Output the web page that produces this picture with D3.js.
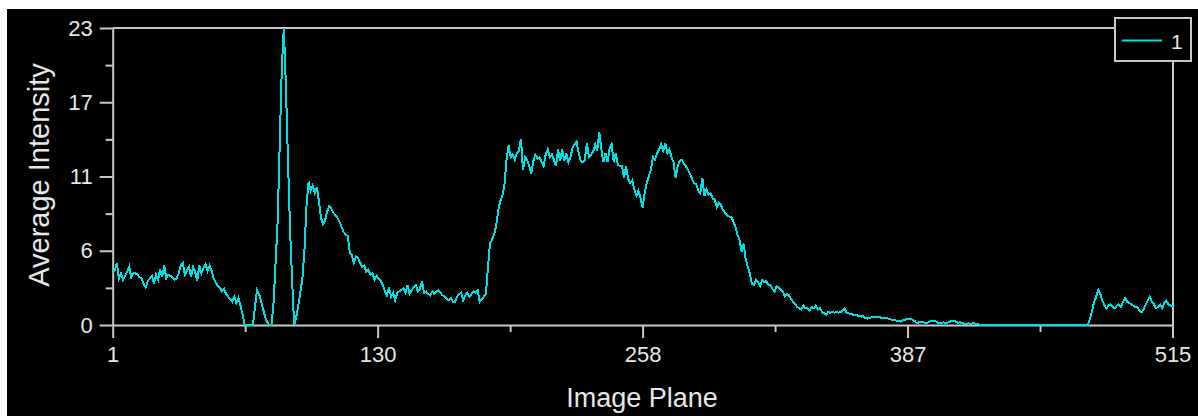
<!DOCTYPE html>
<html><head><meta charset="utf-8">
<script src="https://cdn.jsdelivr.net/npm/d3@7"></script>
<style>html,body{margin:0;padding:0;background:#fff;overflow:hidden}</style>
</head><body>
<svg id="c" width="1198" height="416"></svg>
<script>
// ---- data ----
const intensity = [
  // 1-48
  4.1,4.2,4.8,3.6,4.0,3.5,3.8,4.1,4.5,3.7,
  4.0,4.0,3.9,3.7,3.6,3.2,2.9,3.4,3.6,3.8,
  3.2,3.9,3.5,4.3,3.7,4.6,3.6,3.9,3.8,3.7,
  3.5,3.6,4.0,4.6,4.8,3.9,4.2,4.5,3.7,4.5,
  4.1,3.4,4.6,4.0,4.4,4.7,4.2,4.6,
  // 49-111
  4.2,3.6,3.3,3.0,2.9,2.6,2.8,2.4,2.2,2.0,1.8,2.2,
  1.7,2.1,1.5,0.8,0,0,0,0,0,1.4,
  2.7,2.4,1.8,1.2,0.6,0.2,0,0,1.7,4.8,
  8.0,14.0,19.8,23.0,18.5,12.8,7.5,3.5,0,0.6,
  1.5,2.5,3.6,5.8,9.2,11.1,10.4,10.8,10.2,10.7,
  9.6,8.3,7.8,8.1,8.8,9.2,9.0,8.7,8.5,8.3,
  8.0,
  // 112-185
  7.6,7.2,7.0,6.9,5.6,5.4,4.8,5.3,5.2,4.8,
  4.5,4.6,4.1,4.3,3.9,4.0,3.5,3.8,3.6,3.4,
  3.1,2.6,2.3,2.9,2.2,2.5,1.9,2.5,2.6,2.7,
  2.85,2.5,3.1,2.4,2.7,2.9,3.1,2.6,2.8,3.4,
  2.5,2.6,2.4,2.3,2.6,2.4,2.6,2.7,2.5,2.3,
  2.2,2.0,1.9,2.1,1.8,1.8,2.2,2.4,2.5,1.9,
  2.3,2.5,2.2,2.4,2.6,2.5,2.7,1.8,2.0,2.2,
  2.4,4.5,6.3,6.6,
  // 186-325
  7.0,7.7,8.9,9.6,10.0,10.9,12.8,13.9,13.0,13.2,
  12.8,13.3,13.5,14.4,12.0,13.0,12.8,12.3,11.7,12.7,
  13.2,12.9,13.0,12.6,12.3,13.2,13.6,13.0,13.2,12.8,
  12.3,13.6,12.7,13.6,12.7,13.3,12.6,13.0,13.7,14.0,
  14.2,13.3,12.7,12.6,12.8,14.1,13.0,13.2,13.4,14.0,
  13.5,14.9,13.6,12.6,13.3,12.6,13.7,14.0,12.6,13.3,
  12.4,12.3,12.3,11.4,12.3,11.3,11.0,11.2,10.5,10.0,
  10.4,9.8,9.1,10.2,11.0,11.5,12.0,13.0,12.8,13.3,
  13.6,14.0,13.5,14.1,13.3,13.6,13.0,12.6,11.4,12.3,
  12.7,12.8,12.5,12.3,12.0,11.7,11.3,11.0,10.9,10.4,
  10.2,11.4,10.0,10.5,10.1,10.2,9.8,9.7,9.1,9.5,
  9.3,8.9,8.7,8.5,8.4,8.4,8.0,7.6,7.0,6.6,
  5.7,6.3,5.1,4.5,4.0,3.2,3.1,3.5,3.3,3.0,
  3.5,3.3,3.4,3.1,3.1,2.8,2.6,3.0,2.9,2.7,
  // 326-421
  2.6,2.2,2.4,2.3,2.0,1.8,1.6,1.4,1.3,1.2,
  1.5,1.3,1.3,1.1,1.4,1.3,1.5,1.2,1.3,1.0,
  0.9,0.8,1.0,0.95,1.0,0.96,1.0,0.95,1.0,1.1,
  1.3,0.9,0.9,0.85,0.8,0.8,0.75,0.7,0.65,0.7,
  0.55,0.5,0.55,0.6,0.65,0.6,0.6,0.6,0.55,0.5,
  0.55,0.5,0.45,0.4,0.4,0.35,0.3,0.26,0.35,0.4,
  0.45,0.44,0.5,0.4,0.3,0.13,0.2,0.25,0.2,0.18,
  0.15,0.25,0.3,0.34,0.3,0.2,0.13,0.15,0.2,0.18,
  0.18,0.25,0.3,0.34,0.25,0.18,0.2,0.15,0.1,0.08,
  0.12,0.1,0.12,0.13,0.08,0.05,
  // 422-474
  0,0,0,0,0,0,0,0,0,0,
  0,0,0,0,0,0,0,0,0,0,
  0,0,0,0,0,0,0,0,0,0,
  0,0,0,0,0,0,0,0,0,0,
  0,0,0,0,0,0,0,0,0,0,
  0,0,0,
  // 475-515
  0.5,1.1,1.8,2.2,2.7,2.4,1.9,1.5,1.3,1.5,
  1.6,1.4,1.3,1.5,1.6,1.4,1.8,2.1,1.8,1.7,
  1.6,1.5,1.4,1.4,1.1,1.0,1.2,1.6,1.9,2.2,
  1.8,1.6,1.3,1.4,1.6,1.3,1.7,1.9,1.6,1.5,
  1.5
];
const planes = d3.range(1, intensity.length + 1);
const seriesName = "1";
const xTitle = "Image Plane";
const yTitle = "Average Intensity";
const xTickValues = [1, 129.5, 258, 386.5, 515];
const xTickLabels = ["1", "130", "258", "387", "515"];
const xMinorTicks = [65.25, 193.75, 322.25, 450.75];
const yTickValues = [0, 5.75, 11.5, 17.25, 23];
const yTickLabels = ["0", "6", "11", "17", "23"];
const yMinorTicks = [2.875, 8.625, 14.375, 20.125];

// ---- layout ----
const W = 1198, H = 416;
const L = 112.7, R = 1172.5, T = 28, B = 325;
const axisColor = "#c8c8c8", textColor = "#e6e6e6", lineColor = "#00e0e3";
const font = "'Liberation Sans', Arial, sans-serif";

const svg = d3.select("#c");
svg.append("rect").attr("x", 0).attr("y", 0).attr("width", W).attr("height", H).attr("fill", "#ffffff");
svg.append("rect").attr("x", 7).attr("y", 9).attr("width", W - 7).attr("height", H - 9).attr("fill", "#000000");

const x = d3.scaleLinear().domain([1, 515]).range([L, R]);
const y = d3.scaleLinear().domain([0, 23]).range([B, T]);

// frame top/right
svg.append("line").attr("x1", L).attr("x2", R + 1).attr("y1", T).attr("y2", T)
  .attr("stroke", axisColor).attr("stroke-width", 2);
svg.append("line").attr("x1", R + 0.5).attr("x2", R + 0.5).attr("y1", T).attr("y2", B)
  .attr("stroke", axisColor).attr("stroke-width", 2);

// x axis
const gx = svg.append("g").attr("transform", `translate(0,${B})`)
  .call(d3.axisBottom(x).tickValues(xTickValues).tickSize(13).tickSizeOuter(0).tickPadding(8)
    .tickFormat((d, i) => xTickLabels[i]));
const gxm = svg.append("g").attr("transform", `translate(0,${B})`)
  .call(d3.axisBottom(x).tickValues(xMinorTicks).tickSize(7).tickSizeOuter(0).tickFormat(""));
// y axis
const gy = svg.append("g").attr("transform", `translate(${L},0)`)
  .call(d3.axisLeft(y).tickValues(yTickValues).tickSize(13).tickSizeOuter(0).tickPadding(7)
    .tickFormat((d, i) => yTickLabels[i]));
const gym = svg.append("g").attr("transform", `translate(${L},0)`)
  .call(d3.axisLeft(y).tickValues(yMinorTicks).tickSize(7).tickSizeOuter(0).tickFormat(""));

[gx, gxm, gy, gym].forEach(g => {
  g.selectAll("path.domain").attr("stroke", axisColor).attr("stroke-width", 2);
  g.selectAll(".tick line").attr("stroke", axisColor).attr("stroke-width", 2);
  g.selectAll(".tick text").attr("fill", textColor).style("font-family", font).style("font-size", "22px");
});
gxm.select("path.domain").remove();
gym.select("path.domain").remove();

// titles
svg.append("text").attr("x", 642).attr("y", 407).attr("text-anchor", "middle")
  .attr("fill", textColor).style("font-family", font).style("font-size", "27px").text(xTitle);
svg.append("text").attr("transform", `translate(49,175) rotate(-90)`).attr("text-anchor", "middle")
  .attr("fill", textColor).style("font-family", font).style("font-size", "29px").text(yTitle);

// data line
const line = d3.line().x((d, i) => x(planes[i])).y(d => y(d));
svg.append("path").datum(intensity).attr("d", line)
  .attr("fill", "none").attr("stroke", lineColor).attr("stroke-width", 2)
  .attr("stroke-linejoin", "miter").attr("shape-rendering", "crispEdges");

// legend
const lg = svg.append("g");
lg.append("rect").attr("x", 1115).attr("y", 18).attr("width", 76).attr("height", 43)
  .attr("fill", "#000").attr("stroke", axisColor).attr("stroke-width", 2);
lg.append("line").attr("x1", 1122).attr("x2", 1162).attr("y1", 40.5).attr("y2", 40.5)
  .attr("stroke", lineColor).attr("stroke-width", 2);
lg.append("text").attr("x", 1171).attr("y", 49).attr("fill", textColor)
  .style("font-family", font).style("font-size", "21px").text(seriesName);
</script>
</body></html>
